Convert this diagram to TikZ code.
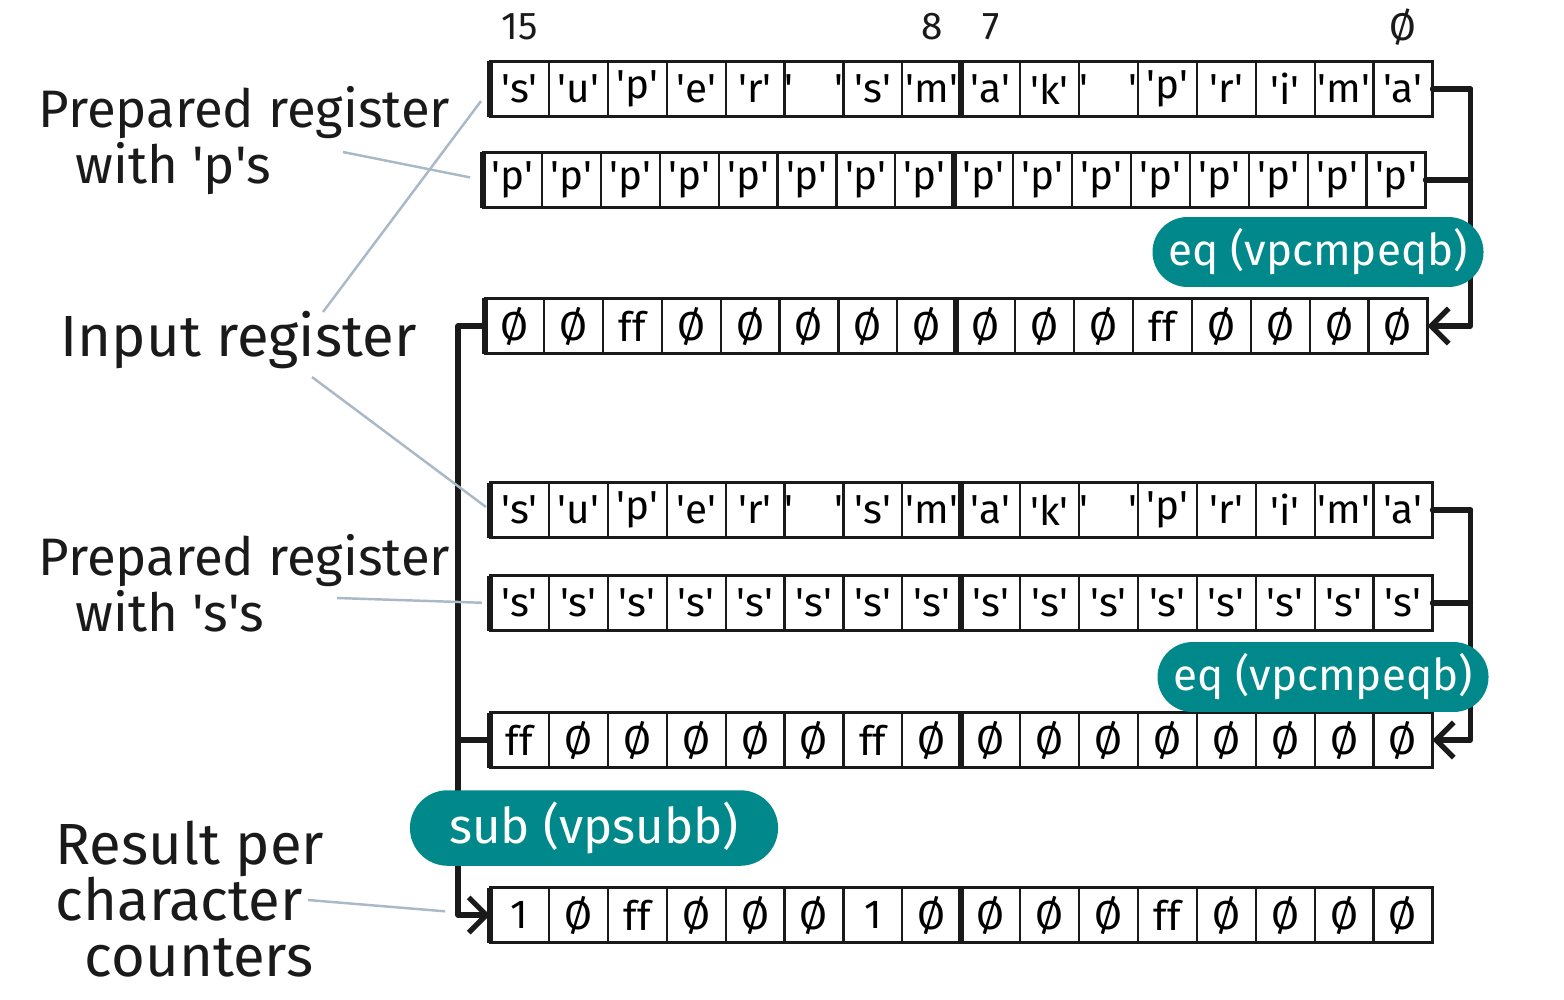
\documentclass[tikz,border=0pt]{standalone}
\usepackage{fontspec}
\setmainfont{Fira Sans}
\usepackage{tikz}
\usetikzlibrary{calc,arrows.meta,shapes.misc,backgrounds}
\definecolor{ink}{HTML}{1A1A1A}
\definecolor{pill}{HTML}{00888A}
\definecolor{pointer}{HTML}{AAB9C8}
\newcommand{\qc}[1]{\textquotesingle#1\textquotesingle}
\newcommand{\gap}{\hspace{1em}}
\tikzset{
  cell/.style={draw=ink, line width=0.6pt, minimum width=0.589cm, minimum height=0.55cm,
    inner sep=0pt, outer sep=0pt, anchor=west, font=\fontsize{11.5}{13}\selectfont},
  edge/.style={draw=ink, line width=1.6pt},
  link/.style={draw=ink, line width=1.5pt, line cap=round, line join=round},
  tip/.style={-{Straight Barb[length=5pt,width=10pt,line width=1.5pt]}},
  op/.style={rounded rectangle, fill=pill, text=white, minimum height=0.52cm, inner xsep=2pt,
    font=\fontsize{12.5}{14}\selectfont},
  lbl/.style={text=ink, align=left, inner sep=0pt, font=\fontsize{16.5}{16}\selectfont},
  lblp/.style={lbl, font=\fontsize{15}{13}\selectfont},
  ptr/.style={draw=pointer, line width=0.7pt},
  idx/.style={text=ink, font=\fontsize{11}{13}\selectfont},
}
% one register: name, left x, centre y, the 16 lanes
\newcommand{\regrow}[4]{%
  \foreach \t [count=\i] in {#4}
    \node[cell] (#1-\i) at ({#2+58.9*(\i-1)},#3) {\t};
  \draw[edge] (#1-1.north west) -- (#1-1.south west);
  \draw[edge] (#1-8.north east) -- (#1-8.south east);
}
\begin{document}
\begin{tikzpicture}[x=0.01cm, y=-0.01cm]
  \useasboundingbox (0,0) rectangle (1564,999);
  % first compare: input against 'p'
  \regrow{inA}{490}{89}{\qc{s},\qc{u},\qc{p},\qc{e},\qc{r},\qc{\gap},\qc{s},\qc{m},\qc{a},\qc{k},\qc{\gap},\qc{p},\qc{r},\qc{i},\qc{m},\qc{a}}
  \regrow{pp}{483}{180}{\qc{p},\qc{p},\qc{p},\qc{p},\qc{p},\qc{p},\qc{p},\qc{p},\qc{p},\qc{p},\qc{p},\qc{p},\qc{p},\qc{p},\qc{p},\qc{p}}
  \regrow{eqA}{485}{326}{Ø,Ø,ff,Ø,Ø,Ø,Ø,Ø,Ø,Ø,Ø,ff,Ø,Ø,Ø,Ø}
  % second compare: input against 's'
  \regrow{inB}{490}{510}{\qc{s},\qc{u},\qc{p},\qc{e},\qc{r},\qc{\gap},\qc{s},\qc{m},\qc{a},\qc{k},\qc{\gap},\qc{p},\qc{r},\qc{i},\qc{m},\qc{a}}
  \regrow{ss}{490}{603}{\qc{s},\qc{s},\qc{s},\qc{s},\qc{s},\qc{s},\qc{s},\qc{s},\qc{s},\qc{s},\qc{s},\qc{s},\qc{s},\qc{s},\qc{s},\qc{s}}
  \regrow{eqB}{490}{740}{ff,Ø,Ø,Ø,Ø,Ø,ff,Ø,Ø,Ø,Ø,Ø,Ø,Ø,Ø,Ø}
  % result
  \regrow{cnt}{490}{915}{1,Ø,ff,Ø,Ø,Ø,1,Ø,Ø,Ø,Ø,ff,Ø,Ø,Ø,Ø}

  % lane numbers
  \node[idx] (b15) at (inA-1 |- 0,27) {15};
  \node[idx] (b8) at (inA-8 |- 0,27) {8};
  \node[idx] (b7) at (inA-9 |- 0,27) {7};
  \node[idx] (b0) at (inA-16 |- 0,27) {Ø};

  % operations
  \node[op, minimum width=3.2cm] (cmpA) at (1318,252) {eq (vpcmpeqb)};
  \node[op, minimum width=3.22cm] (cmpB) at (1323,677) {eq (vpcmpeqb)};
  \node[op, minimum width=3.82cm, minimum height=0.62cm, font=\fontsize{14}{16}\selectfont] (subOp) at (594,828) {sub (vpsubb)};

  \begin{scope}[on background layer]
    \draw[link] (inA-16.east) -- ++(38,0) coordinate (jA);
    \draw[link] (pp-16.east) -- (pp-16.east -| jA);
    \draw[link,tip] (jA) |- (eqA-16.east);
    \draw[link] (inB-16.east) -- ++(38,0) coordinate (jB);
    \draw[link] (ss-16.east) -- (ss-16.east -| jB);
    \draw[link,tip] (jB) |- (eqB-16.east);
    \draw[link] (eqA-1.west) -- ++(-27,0) coordinate (jL);
    \draw[link] (eqB-1.west) -- (eqB-1.west -| jL);
    \draw[link,tip] (jL) |- (cnt-1.west);
  \end{scope}

  % captions
  \node[lblp, anchor=north west] (lblP) at (38,86) {Prepared register\\\hspace*{0.7em}with \qc{p}s};
  \node[lbl, anchor=west] (lblIn) at (60,340) {Input register};
  \node[lblp, anchor=north west] (lblS) at (38,534) {Prepared register\\\hspace*{0.7em}with \qc{s}s};
  \node[lbl, anchor=north west] (lblRes) at (55,820) {Result per\\character\\\hspace*{0.5em}counters};

  \coordinate (fromP) at (343,152);
  \coordinate (fromInA) at (323,312);
  \coordinate (fromInB) at (312,377);
  \coordinate (fromS) at (337,598);
  \coordinate (fromRes) at (308,900);
  \draw[ptr, shorten >=0.13cm] (fromP) -- (pp-1.west);
  \draw[ptr, shorten >=0.15cm] (fromInA) -- (inA-1.west);
  \draw[ptr, shorten >=0.05cm] (fromInB) -- (inB-1.west);
  \draw[ptr, shorten >=0.08cm] (fromS) -- (ss-1.west);
  \draw[ptr, shorten >=0.45cm] (fromRes) -- (cnt-1.west);
\end{tikzpicture}
\end{document}
